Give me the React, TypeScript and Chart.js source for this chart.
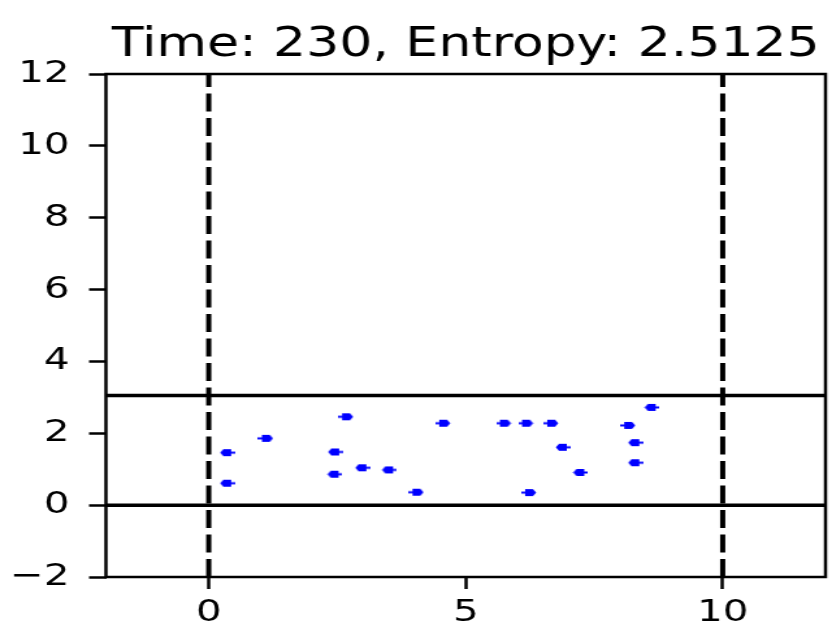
import { useEffect, useRef } from "react";
import { Chart, registerables } from "chart.js";

Chart.register(...registerables);

// Simulation snapshot
const timeStep = 230;
const entropy = "2.5125";

// Particle positions and heading (+1 moving right, -1 moving left)
const particleX = [2.67, 1.11, 0.36, 2.46, 2.99, 3.51, 0.36, 2.45, 4.04, 8.62, 4.56, 5.74, 6.17, 6.66, 8.16, 8.30, 6.89, 8.30, 7.23, 6.23];
const particleY = [2.46, 1.86, 1.46, 1.48, 1.04, 0.98, 0.61, 0.86, 0.36, 2.72, 2.28, 2.28, 2.28, 2.28, 2.22, 1.74, 1.61, 1.18, 0.91, 0.35];
const heading = [1, 1, -1, -1, -1, -1, -1, -1, 1, -1, 1, 1, 1, 1, 1, -1, -1, -1, -1, 1];

// Box walls
const wallX = [0, 10];
const floorCeilY = [0, 3.05];

// Axes
const xRange = [-2, 12];
const yRange = [-2, 12];
const xTicks = [0, 5, 10];
const yTicks = [-2, 0, 2, 4, 6, 8, 10, 12];

// The plot is drawn on a narrower canvas and stretched horizontally
const CANVAS_W = 640;
const CANVAS_H = 627;
const SHOWN_W = 832;

const FONT = "'DejaVu Sans', 'Liberation Sans', sans-serif";

function makeArrow(dir: number): HTMLCanvasElement {
  const c = document.createElement("canvas");
  c.width = 12;
  c.height = 9;
  const g = c.getContext("2d")!;
  g.fillStyle = "#0000ff";
  g.save();
  if (dir < 0) {
    g.translate(12, 0);
    g.scale(-1, 1);
  }
  g.fillRect(0, 3.5, 4, 2);
  g.beginPath();
  g.moveTo(3, 1);
  g.lineTo(9, 1);
  g.lineTo(11.5, 4.5);
  g.lineTo(9, 8);
  g.lineTo(3, 8);
  g.closePath();
  g.fill();
  g.restore();
  return c;
}

const framePlugin = {
  id: "frameAndTitle",
  afterDraw(chart: any) {
    const { ctx, chartArea } = chart;
    const { left, right, top, bottom } = chartArea;
    ctx.save();
    ctx.strokeStyle = "#000";
    ctx.lineWidth = 2.5;
    ctx.strokeRect(left, top, right - left, bottom - top);
    ctx.fillStyle = "#000";
    ctx.font = `40px ${FONT}`;
    ctx.textAlign = "center";
    ctx.textBaseline = "alphabetic";
    ctx.fillText(`Time: ${timeStep}, Entropy: ${entropy}`, (left + right) / 2, 56);
    ctx.restore();
  },
};

export default function App() {
  const ref = useRef<HTMLCanvasElement | null>(null);

  useEffect(() => {
    if (!ref.current) return;
    const arrows = { r: makeArrow(1), l: makeArrow(-1) };

    const wallSets = wallX.map((x) => ({
      label: `wall ${x}`,
      data: [
        { x, y: yRange[0] },
        { x, y: yRange[1] },
      ],
      showLine: true,
      borderColor: "#000",
      borderWidth: 4,
      borderDash: [18, 6.5],
      pointRadius: 0,
      pointHoverRadius: 0,
    }));

    const floorSets = floorCeilY.map((y) => ({
      label: `level ${y}`,
      data: [
        { x: xRange[0], y },
        { x: xRange[1], y },
      ],
      showLine: true,
      borderColor: "#000",
      borderWidth: 3.5,
      pointRadius: 0,
      pointHoverRadius: 0,
    }));

    const chart = new Chart(ref.current, {
      type: "scatter",
      data: {
        datasets: [
          {
            label: "particles",
            data: particleX.map((x, i) => ({ x, y: particleY[i] })),
            pointStyle: (c: any) => (heading[c.dataIndex] > 0 ? arrows.r : arrows.l),
            backgroundColor: "#0000ff",
            borderColor: "#0000ff",
          } as any,
          ...floorSets,
          ...wallSets,
        ],
      },
      options: {
        responsive: false,
        animation: false,
        layout: { padding: { top: 74, right: 3.5, left: 0, bottom: 0 } },
        plugins: {
          legend: { display: false },
          tooltip: { enabled: false },
          title: { display: false },
        },
        scales: {
          x: {
            type: "linear",
            min: xRange[0],
            max: xRange[1],
            afterBuildTicks: (s: any) => {
              s.ticks = xTicks.map((v) => ({ value: v }));
            },
            afterFit: (s: any) => {
              s.height = 50;
            },
            border: { display: false },
            grid: {
              drawOnChartArea: false,
              drawTicks: true,
              tickLength: 12,
              tickColor: "#000",
              tickWidth: 2.5,
            },
            ticks: {
              padding: 5,
              color: "#000",
              maxRotation: 0,
              font: { family: FONT, size: 31 },
            },
          },
          y: {
            type: "linear",
            min: yRange[0],
            max: yRange[1],
            afterBuildTicks: (s: any) => {
              s.ticks = yTicks.map((v) => ({ value: v }));
            },
            afterFit: (s: any) => {
              s.width = 81.5;
            },
            border: { display: false },
            grid: {
              drawOnChartArea: false,
              drawTicks: true,
              tickLength: 13,
              tickColor: "#000",
              tickWidth: 2.5,
            },
            ticks: {
              padding: 15,
              color: "#000",
              font: { family: FONT, size: 31 },
              callback: (v: any) => (Number(v) < 0 ? `\u2212${Math.abs(Number(v))}` : `${v}`),
            },
          },
        },
      },
      plugins: [framePlugin],
    });

    return () => chart.destroy();
  }, []);

  return (
    <div style={{ position: "absolute", left: 0, top: 0, width: SHOWN_W, height: CANVAS_H, background: "#fff" }}>
      <canvas
        ref={ref}
        width={CANVAS_W}
        height={CANVAS_H}
        style={{ width: `${SHOWN_W}px`, height: `${CANVAS_H}px`, display: "block" }}
      />
    </div>
  );
}
